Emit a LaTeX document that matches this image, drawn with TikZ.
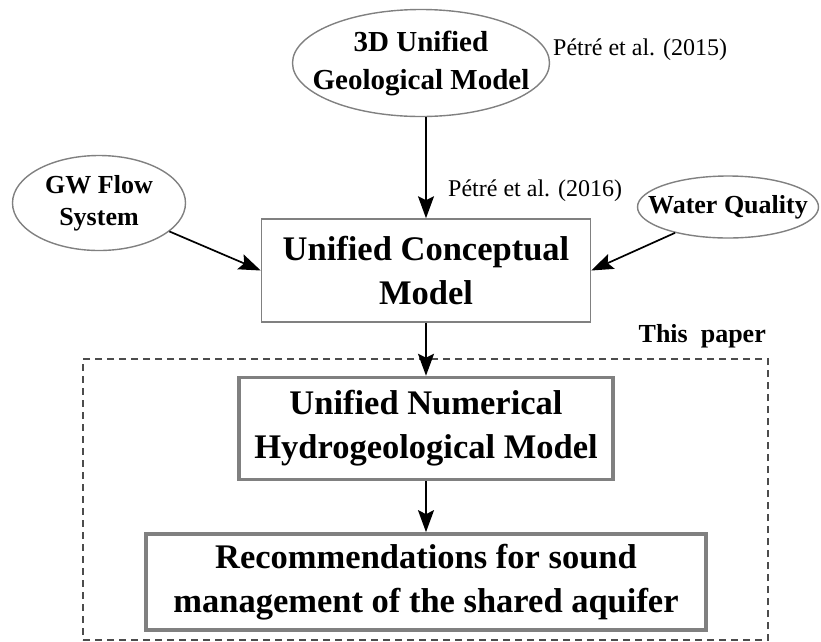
\documentclass[tikz,border=0pt]{standalone}
\usepackage{fontspec}
\setmainfont{Liberation Serif}
\usetikzlibrary{arrows.meta, positioning, shapes.geometric, fit, calc}
\tikzset{
  src/.style={ellipse,draw=black!50,line width=1.4pt,align=center,inner xsep=-40pt,inner ysep=0pt,
    font=\fontsize{29}{38}\selectfont\bfseries},
  model/.style={rectangle,draw=black!50,line width=1.5pt,align=center,inner sep=0pt,
    font=\fontsize{34.5}{44}\selectfont\bfseries},
  thickmodel/.style={model,line width=3.4pt},
  cite/.style={inner sep=0pt,font=\fontsize{24}{28}\selectfont},
  frame/.style={rectangle,draw=black!70,line width=1.3pt,dash pattern=on 7pt off 5pt,inner sep=0pt},
  ar/.style={-{Stealth[length=22pt,width=16pt,inset=4pt]},line width=1.7pt,draw=black}
}

\begin{document}
\begin{tikzpicture}[x=1pt,y=1pt,node distance=53pt]
\useasboundingbox (0,0) rectangle (821,-641);
\node[model,minimum width=329pt,minimum height=103pt] (ucm) at (426,-270.5) {Unified Conceptual\\Model};
\node[thickmodel,minimum width=374pt,minimum height=102pt,below=53pt of ucm] (unm) {Unified Numerical\\Hydrogeological Model};
\node[thickmodel,minimum width=560pt,minimum height=96pt,below=51pt of unm] (rec) {Recommendations for sound\\management of the shared aquifer};
\node[src,minimum width=257pt,minimum height=107pt] (geo) at (421,-63) {3D Unified\\Geological Model};
\node[src,font=\fontsize{26}{32}\selectfont\bfseries,minimum width=173pt,minimum height=95pt] (gw) at (99,-203) {GW Flow\\System};
\node[src,font=\fontsize{26}{32}\selectfont\bfseries,minimum width=181pt,minimum height=62pt] (wq) at (728,-207) {Water Quality};
\node[cite,anchor=base west] (c15) at (553,-55) {Pétré et al. (2015)};
\node[cite,anchor=base west] (c16) at (448,-196) {Pétré et al. (2016)};
\node[frame,minimum width=685pt,minimum height=281pt] (paper) at (425.5,-499.5) {};
\node[inner sep=0pt,anchor=base east,font=\fontsize{26}{30}\selectfont\bfseries] (tp) at (766,-342) {This\ \ paper};
\draw[ar] (ucm.north |- geo.south) -- (ucm.north);
\draw[ar] (gw.-22) -- (ucm.west);
\draw[ar] (wq.206) -- (ucm.east);
\draw[ar] (ucm) -- (unm);
\draw[ar] (unm) -- (rec);
\end{tikzpicture}
\end{document}
